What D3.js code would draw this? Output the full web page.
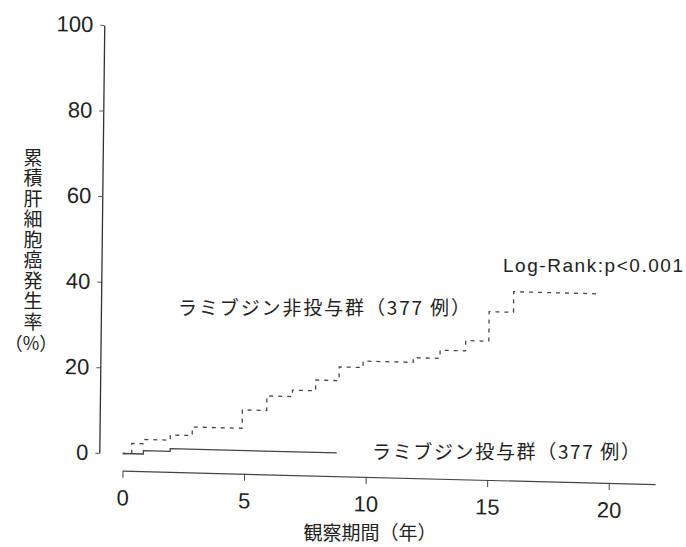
<!DOCTYPE html>
<html>
<head>
<meta charset="utf-8">
<script src="https://cdn.jsdelivr.net/npm/d3@7"></script>
<style>
  html, body { margin: 0; padding: 0; background: #fff; }
  svg { display: block; }
  text { fill: #222; }
</style>
</head>
<body>
<svg id="chart" width="686" height="547"></svg>
<script>
// Follow-up (years) and cumulative HCC incidence (%) for each group
const lamYears = [0, 0.85, 1.95, 8.8];
const lamRate  = [0, 0.8, 1.4, 1.4];
const nonYears = [0, 0.37, 0.86, 1.95, 2.85, 4.9, 5.9, 6.95, 7.9, 8.86, 9.84, 11.9, 13.0, 14.05, 15.0, 16.0, 19.4];
const nonRate  = [0, 2.4, 3.4, 4.6, 6.6, 10.9, 14.3, 15.8, 18.3, 21.5, 23.0, 24.1, 26.0, 28.4, 35.3, 40.1, 40.1];

const xTicks = [0, 5, 10, 15, 20];
const yTicks = [0, 20, 40, 60, 80, 100];
const xAxisEnd = 21.9;

const yTitle = "累積肝細胞癌発生率";
const yUnit = "（%）";
const nonLabel = "ラミブジン非投与群（377 例）";
const lamLabel = "ラミブジン投与群（377 例）";
const pLabel = "Log-Rank:p<0.001";
const xTitle = "観察期間（年）";

const svg = d3.select("#chart");
const latin = "'Liberation Sans', Arial, Helvetica, sans-serif";
const cjk = "'Noto Sans CJK JP', 'Noto Sans CJK SC', sans-serif";

const x = d3.scaleLinear().domain([0, 20]).range([122.7, 609]);
const y = d3.scaleLinear().domain([0, 100]).range([453.5, 25.5]);

// the printed frame leans slightly: shear around the plot origin
const px = x(0), py = y(0);
const plot = svg.append("g")
  .attr("transform", `translate(${px},${py}) matrix(1,0.0253,-0.0116,1,0,0) translate(${-px},${-py})`);

// y axis
const yAxis = d3.axisLeft(y).tickValues(yTicks).tickSize(4).tickSizeOuter(0).tickPadding(7);
const gy = plot.append("g").attr("transform", "translate(99.3,0)").call(yAxis);
gy.select(".domain").attr("stroke", "#333").attr("stroke-width", 1.3);
gy.selectAll(".tick line").attr("stroke", "#555").attr("stroke-width", 1);
gy.selectAll(".tick text")
  .attr("font-family", latin).attr("font-size", 22).attr("fill", "#222");

// x axis, drawn a little below the zero line
const xa = d3.scaleLinear().domain([0, xAxisEnd]).range([x(0), x(xAxisEnd)]);
const xAxis = d3.axisBottom(xa).tickValues(xTicks).tickSize(7).tickSizeOuter(0);
const gx = plot.append("g").attr("transform", "translate(0,470.7)").call(xAxis);
gx.select(".domain").attr("stroke", "#444").attr("stroke-width", 1.2);
gx.selectAll(".tick line").attr("stroke", "#444").attr("stroke-width", 1);
gx.selectAll(".tick text")
  .attr("y", 19).attr("dy", "0.71em")
  .attr("font-family", latin).attr("font-size", 22).attr("fill", "#222");

// survival-style step curves
const stepLine = d3.line()
  .x(d => x(d[0]))
  .y(d => y(d[1]))
  .curve(d3.curveStepAfter);

plot.append("path")
  .datum(nonYears.map((t, i) => [t, nonRate[i]]))
  .attr("d", stepLine)
  .attr("fill", "none")
  .attr("stroke", "#444")
  .attr("stroke-width", 1.3)
  .attr("stroke-dasharray", "4,5");

plot.append("path")
  .datum(lamYears.map((t, i) => [t, lamRate[i]]))
  .attr("d", stepLine)
  .attr("fill", "none")
  .attr("stroke", "#444")
  .attr("stroke-width", 1.3);

// group labels and test result
svg.append("text")
  .attr("x", 178).attr("y", 315)
  .attr("font-family", cjk).attr("font-size", 19)
  .attr("textLength", 292).attr("lengthAdjust", "spacing")
  .text(nonLabel);

svg.append("text")
  .attr("x", 372).attr("y", 459)
  .attr("font-family", cjk).attr("font-size", 19)
  .attr("textLength", 268).attr("lengthAdjust", "spacing")
  .text(lamLabel);

svg.append("text")
  .attr("x", 503).attr("y", 272)
  .attr("font-family", latin).attr("font-size", 19)
  .attr("textLength", 180).attr("lengthAdjust", "spacing")
  .text(pLabel);

// axis titles
svg.append("text")
  .attr("x", 370).attr("y", 540)
  .attr("text-anchor", "middle")
  .attr("font-family", cjk).attr("font-size", 19)
  .text(xTitle);

// vertical y title, set top to bottom
svg.append("text")
  .attr("x", 33).attr("y", 148)
  .style("writing-mode", "vertical-rl")
  .attr("font-family", cjk).attr("font-size", 19)
  .attr("letter-spacing", 1.5)
  .text(yTitle);

svg.append("text")
  .attr("x", 31).attr("y", 350)
  .attr("text-anchor", "middle")
  .attr("font-family", cjk).attr("font-size", 18)
  .text(yUnit);
</script>
</body>
</html>
